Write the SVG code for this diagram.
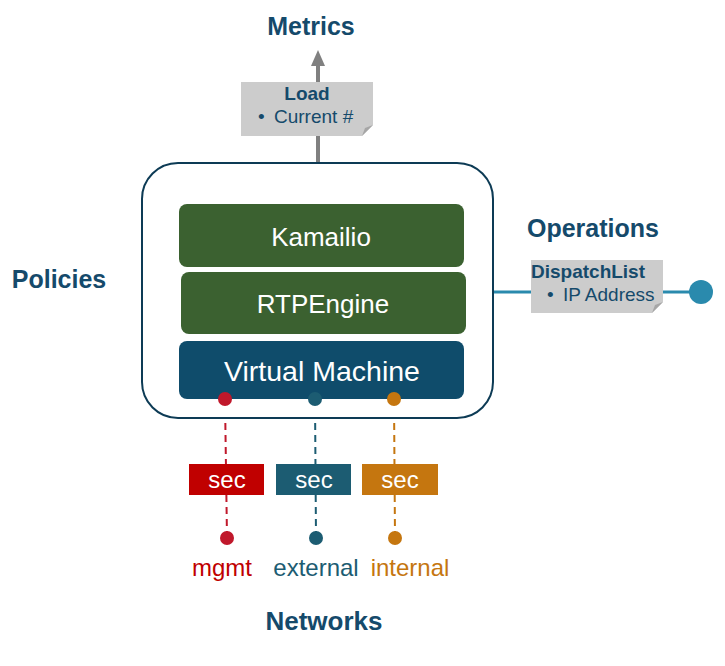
<svg xmlns="http://www.w3.org/2000/svg" width="725" height="666" viewBox="0 0 725 666">
<style>
text{font-family:"Liberation Sans",Arial,sans-serif}
.title{font-size:25px;font-weight:bold;fill:#154a6b;text-anchor:middle}
.lay{font-size:26px;fill:#ffffff;text-anchor:middle}
.sec{font-size:24px;fill:#ffffff;text-anchor:middle}
.note{fill:#cccccc}
.nt{font-size:19px;fill:#154a6b}
.net{font-size:24px;text-anchor:middle}
</style>
<g id="titles">
<text class="title" x="311" y="35">Metrics</text>
<text class="title" x="593" y="237">Operations</text>
<text class="title" x="59" y="288">Policies</text>
<text class="title" x="324" y="630" style="font-size:26px">Networks</text>
</g>
<g id="connectors">
<line x1="318" y1="163" x2="318" y2="62" stroke="#808080" stroke-width="4"/>
<polygon points="311,66 318,50 325,66" fill="#808080"/>
<line x1="493" y1="292" x2="701" y2="292" stroke="#2a8aad" stroke-width="3"/>
<circle cx="701" cy="292" r="12" fill="#2a8aad"/>
<line x1="225" y1="399" x2="227" y2="538" stroke="#c0182b" stroke-width="2" stroke-dasharray="7,5"/>
<line x1="315" y1="399" x2="316" y2="538" stroke="#1c5c72" stroke-width="2" stroke-dasharray="7,5"/>
<line x1="394" y1="399" x2="395" y2="538" stroke="#c5760f" stroke-width="2" stroke-dasharray="7,5"/>
</g>
<g id="host">
<rect x="142" y="163" width="351" height="255" rx="36" fill="#ffffff" stroke="#0d3b55" stroke-width="2"/>
</g>
<g id="kamailio">
<rect x="179" y="204" width="285" height="63" rx="8" fill="#3b6130"/>
<text class="lay" x="321" y="246">Kamailio</text>
</g>
<g id="rtpengine">
<rect x="181" y="272" width="285" height="62" rx="8" fill="#3b6130"/>
<text class="lay" x="323" y="313">RTPEngine</text>
</g>
<g id="vm">
<rect x="179" y="341" width="285" height="58" rx="8" fill="#0f4c6b"/>
<text class="lay" x="322" y="381" style="font-size:28.5px">Virtual Machine</text>
</g>
<g id="ports">
<circle cx="225" cy="399" r="7" fill="#c0182b"/>
<circle cx="315" cy="399" r="7" fill="#1c5c72"/>
<circle cx="394" cy="399" r="7" fill="#c5760f"/>
</g>
<g id="load">
<path class="note" d="M241,82 H373 V125 L362,136 H241 Z"/>
<path d="M373,125 L362,136 L365,128 Z" fill="#a6a6a6"/>
<text class="nt" x="307" y="100" text-anchor="middle" font-weight="bold">Load</text>
<text class="nt" x="258" y="123">•</text>
<text class="nt" x="274" y="123">Current #</text>
</g>
<g id="dispatchlist">
<path class="note" d="M531,260 H663 V302 L652,313 H531 Z"/>
<path d="M663,302 L652,313 L655,305 Z" fill="#a6a6a6"/>
<text class="nt" x="531" y="278" font-weight="bold">DispatchList</text>
<text class="nt" x="547" y="301">•</text>
<text class="nt" x="563" y="301">IP Address</text>
</g>
<g id="sec-mgmt">
<rect x="189" y="464" width="75" height="31" fill="#c00000"/>
<text class="sec" x="227" y="488">sec</text>
</g>
<g id="sec-external">
<rect x="276" y="464" width="75" height="31" fill="#1c5c72"/>
<text class="sec" x="314" y="488">sec</text>
</g>
<g id="sec-internal">
<rect x="362" y="464" width="76" height="31" fill="#c5760f"/>
<text class="sec" x="400" y="488">sec</text>
</g>
<g id="networks">
<circle cx="227" cy="538" r="7" fill="#c0182b"/>
<circle cx="316" cy="538" r="7" fill="#1c5c72"/>
<circle cx="395" cy="538" r="7" fill="#c5760f"/>
<text class="net" x="222" y="576" fill="#c00000">mgmt</text>
<text class="net" x="316" y="576" fill="#1c5c72">external</text>
<text class="net" x="410" y="576" fill="#c5760f">internal</text>
</g>
</svg>
